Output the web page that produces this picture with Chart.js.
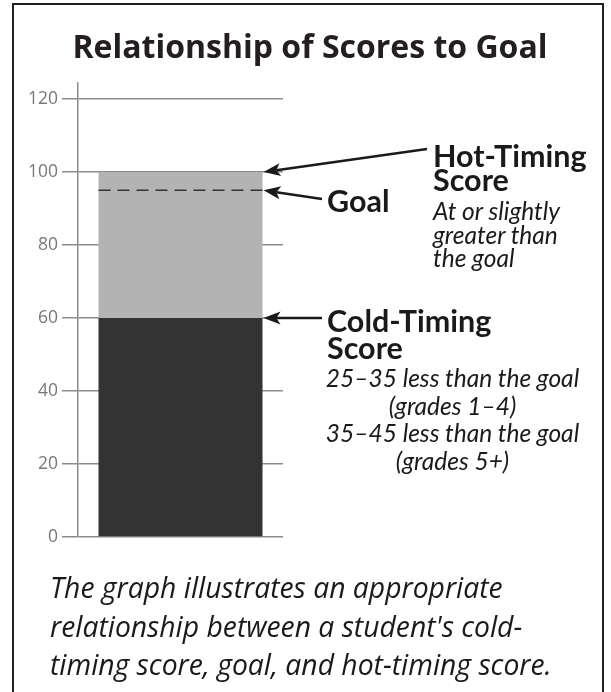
<!DOCTYPE html>
<html><head><meta charset="utf-8">
<script src="https://cdn.jsdelivr.net/npm/chart.js@4.4.1/dist/chart.umd.min.js"></script>
<style>
html,body{margin:0;padding:0;background:#fff;}
#wrap{position:relative;width:611px;height:692px;overflow:hidden;background:#fff;}
#frame{position:absolute;left:12px;top:3px;width:592px;height:740px;border:2px solid #231f20;box-sizing:border-box;}
#chartBox{position:absolute;left:0;top:0;width:611px;height:692px;}
.t{position:absolute;white-space:nowrap;color:#1a1a1a;line-height:normal;}
</style></head><body>
<div id="wrap">
<div id="frame"></div>
<div id="chartBox"><canvas id="c"></canvas></div>
</div>
<script>
// ---- data ----
const categories = ['Student'];
const coldScore = [60];
const hotScore = [100];
const goalScore = [95];
const tickValues = [0, 20, 40, 60, 80, 100, 120];
const titleText = ['Relationship of Scores to Goal'];
const hotLabel = ['Hot-Timing', 'Score'];
const hotNote = ['At or slightly', 'greater than', 'the goal'];
const goalLabel = ['Goal'];
const coldLabel = ['Cold-Timing', 'Score'];
const coldNote = ['25\u201335 less than the goal', '(grades 1\u20134)', '35\u201345 less than the goal', '(grades 5+)'];
const captionLines = ['The graph illustrates an appropriate', "relationship between a student's cold-", 'timing score, goal, and hot-timing score.'];

// ---- helpers ----
const wrap = document.getElementById('wrap');
function placeText(text, x, baseline, font, align, color) {
  const d = document.createElement('div');
  d.className = 't';
  d.style.font = font;
  d.style.lineHeight = 'normal';
  if (color) d.style.color = color;
  d.textContent = text;
  const probe = document.createElement('span');
  probe.style.cssText = 'display:inline-block;width:0;height:0;vertical-align:baseline;';
  d.appendChild(probe);
  wrap.appendChild(d);
  const b = probe.offsetTop;
  d.style.top = (baseline - b) + 'px';
  const w = d.getBoundingClientRect().width;
  let left = x;
  if (align === 'center') left = x - w / 2;
  else if (align === 'right') left = x - w;
  d.style.left = left + 'px';
  return d;
}

function drawArrow(ctx, x0, y0, x1, y1) {
  const ang = Math.atan2(y1 - y0, x1 - x0);
  const L = 17, H = 6.5, N = 4;
  const bx = x1 - L * Math.cos(ang), by = y1 - L * Math.sin(ang);
  ctx.save();
  ctx.strokeStyle = '#1a1a1a';
  ctx.fillStyle = '#1a1a1a';
  ctx.lineWidth = 2.5;
  ctx.beginPath();
  ctx.moveTo(x0, y0);
  ctx.lineTo(x1 - (L - N) * Math.cos(ang), y1 - (L - N) * Math.sin(ang));
  ctx.stroke();
  const px = -Math.sin(ang), py = Math.cos(ang);
  ctx.beginPath();
  ctx.moveTo(x1, y1);
  ctx.lineTo(bx + H * px, by + H * py);
  ctx.lineTo(x1 - (L - N) * Math.cos(ang), y1 - (L - N) * Math.sin(ang));
  ctx.lineTo(bx - H * px, by - H * py);
  ctx.closePath();
  ctx.fill();
  ctx.restore();
}

const annotationPlugin = {
  id: 'annotations',
  afterDatasetsDraw(chart) {
    const ctx = chart.ctx;
    const ys = chart.scales.y;
    const bar = chart.getDatasetMeta(1).data[0];
    const left = bar.x - bar.width / 2;
    const right = bar.x + bar.width / 2;
    const gy = ys.getPixelForValue(goalScore[0]);
    ctx.save();
    ctx.strokeStyle = '#333333';
    ctx.lineWidth = 1.5;
    ctx.setLineDash([12, 7]);
    ctx.beginPath();
    ctx.moveTo(left, gy);
    ctx.lineTo(right, gy);
    ctx.stroke();
    ctx.restore();
    const hy = ys.getPixelForValue(hotScore[0]);
    const cy = ys.getPixelForValue(coldScore[0]);
    drawArrow(ctx, 427, 149, right + 1, hy);
    drawArrow(ctx, 322, 199, right + 1, gy);
    drawArrow(ctx, 322, cy, right + 1, cy);
  }
};

const gridColor = '#8c8c8c';
new Chart(document.getElementById('c'), {
  type: 'bar',
  data: {
    labels: categories,
    datasets: [
      { label: 'Cold-Timing Score', data: coldScore, backgroundColor: '#333333', grouped: false, order: 2 },
      { label: 'Hot-Timing Score', data: coldScore.map((c, i) => [c, hotScore[i]]), backgroundColor: '#b3b3b3', grouped: false, order: 1 }
    ]
  },
  options: {
    responsive: true,
    maintainAspectRatio: false,
    animation: false,
    events: [],
    layout: { padding: { left: 0, right: 328, top: 83, bottom: 155 } },
    categoryPercentage: 1,
    barPercentage: 0.8,
    plugins: { legend: { display: false }, tooltip: { enabled: false }, title: { display: false } },
    scales: {
      x: { display: false },
      y: {
        min: 0,
        max: 124.4,
        afterBuildTicks: (s) => { s.ticks = tickValues.map(v => ({ value: v })); },
        afterFit: (s) => { s.width = 78; },
        grid: { color: gridColor, lineWidth: 1.5, tickLength: 16, tickColor: gridColor, drawTicks: true },
        border: { display: true, color: gridColor, width: 1.5 },
        ticks: { color: '#787878', padding: 4, font: { family: 'Open Sans', size: 17.5 } }
      }
    }
  },
  plugins: [annotationPlugin]
});

// ---- text ----
placeText(titleText[0], 310, 58, 'bold 32px "Open Sans"', 'center', '#231f20');
const boldF = 'bold 30.5px Lato';
const italF = 'italic 24.5px Lato';
placeText(hotLabel[0], 433, 166.5, boldF, 'left');
placeText(hotLabel[1], 433, 190.5, boldF, 'left');
placeText(hotNote[0], 433, 220, italF, 'left');
placeText(hotNote[1], 433, 244, italF, 'left');
placeText(hotNote[2], 433, 267, italF, 'left');
placeText(goalLabel[0], 327, 211.5, boldF, 'left');
placeText(coldLabel[0], 327, 331.5, boldF, 'left');
placeText(coldLabel[1], 327, 359, boldF, 'left');
placeText(coldNote[0], 452.5, 387, italF, 'center');
placeText(coldNote[1], 452.5, 414.5, italF, 'center');
placeText(coldNote[2], 452.5, 442, italF, 'center');
placeText(coldNote[3], 452.5, 469.5, italF, 'center');
const capF = 'italic 28.3px "Open Sans"';
placeText(captionLines[0], 50, 598, capF, 'left');
placeText(captionLines[1], 50, 636.5, capF, 'left');
placeText(captionLines[2], 50, 675, capF, 'left');
</script>
</body></html>
